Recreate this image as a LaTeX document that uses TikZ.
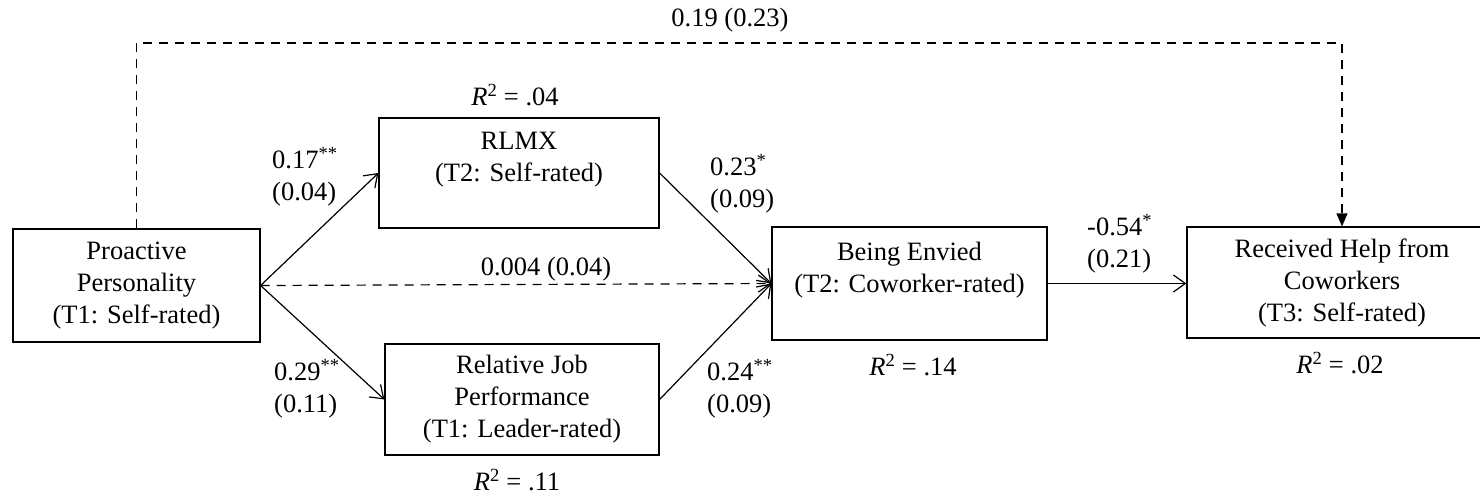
\documentclass[tikz,border=0pt]{standalone}
\usepackage{fontspec}
\setmainfont{Liberation Serif}
\usetikzlibrary{arrows.meta}
\newcommand\diagfs{\fontsize{26.5}{32}\selectfont}
\newcommand\rsq[1]{\textit{R}\textsuperscript{2} = #1}
\begin{document}
\begin{tikzpicture}[x=1pt,y=-1pt,
  box/.style={draw, line width=1.2pt, align=center, inner sep=0pt, font=\diagfs},
  lbl/.style={inner sep=0pt, font=\diagfs, align=left, anchor=west},
  ctr/.style={inner sep=0pt, font=\diagfs},
  conn/.style={line width=1.2pt},
  open/.style={conn, -{Straight Barb[length=12pt,width=17pt,line width=1.2pt]}},
  dsh/.style={dash pattern=on 9pt off 7pt},
  filled/.style={conn, -{Triangle[length=13pt,width=11pt]}}
]
\useasboundingbox (0,0) rectangle (1480,496);
\clip (0,0) rectangle (1480,496);
\node[box, minimum width=247pt, minimum height=113pt] (pp) at (136.5,285.5) {Proactive\\Personality\\(T1: Self-rated)};
\node[box, minimum width=280pt, minimum height=110pt] (rlmx) at (519,173) {RLMX\\(T2: Self-rated)\\\mbox{}};
\node[box, minimum width=274pt, minimum height=111pt] (rjp) at (522,399.5) {Relative Job\\Performance\\(T1: Leader-rated)};
\node[box, minimum width=275pt, minimum height=113pt] (be) at (909.5,283.5) {Being Envied\\(T2: Coworker-rated)\\\mbox{}};
\node[box, minimum width=310pt, minimum height=111pt] (rh) at (1342,282.5) {Received Help from\\Coworkers\\(T3: Self-rated)};

\node[ctr] (r1) at (515,95) {\rsq{.04}};
\node[ctr] (r2) at (517,480) {\rsq{.11}};
\node[ctr] (r3) at (913,365) {\rsq{.14}};
\node[ctr] (r4) at (1340,363) {\rsq{.02}};

\coordinate (c1) at (136.5,43);
\coordinate (c2) at (1342,43);
\draw[filled, dsh] (pp.north) -- (c1) -- (c2) -- (rh.north);
\node[ctr] (ltop) at (730,20) {0.19 (0.23)};

\draw[open] (pp.east) -- (rlmx.west);
\draw[open] (pp.east) -- (rjp.west);
\draw[open, dsh] (pp.east) -- (be.west);
\draw[open] (rlmx.east) -- (be.west);
\draw[open] (rjp.east) -- (be.west);
\draw[open] (be.east) -- (be.east -| rh.west);

\node[ctr] (lmid) at (546,269) {0.004 (0.04)};
\node[lbl] (l1) at (272,177) {0.17\textsuperscript{**}\\(0.04)};
\node[lbl] (l2) at (274,389) {0.29\textsuperscript{**}\\(0.11)};
\node[lbl] (l3) at (710,184) {0.23\textsuperscript{*}\\(0.09)};
\node[lbl] (l4) at (707,389) {0.24\textsuperscript{**}\\(0.09)};
\node[lbl] (l5) at (1087,244) {-0.54\textsuperscript{*}\\(0.21)};
\end{tikzpicture}
\end{document}
